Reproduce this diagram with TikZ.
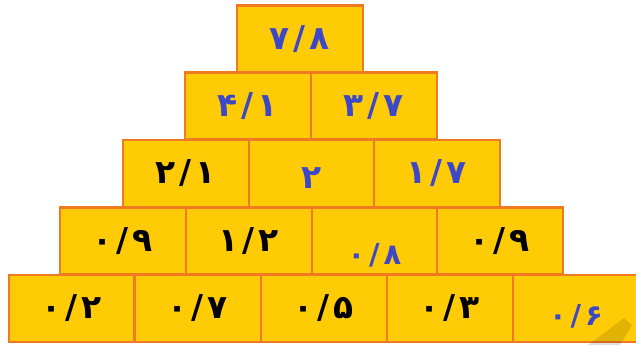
\documentclass[tikz,border=0pt]{standalone}
\usepackage{fontspec}
\newfontfamily\digitfont[Script=Arabic]{DejaVu Sans}
\definecolor{brickfill}{HTML}{FFCB05}
\definecolor{brickline}{HTML}{F07A22}
\definecolor{numblue}{HTML}{3C48C8}
\newcommand\decnum[2]{#1\kern4bp/\kern4bp#2}
\tikzset{
  brick/.style={draw=brickline,fill=brickfill,line width=2.4pt,
    minimum width=125.5bp,minimum height=67bp,inner sep=0pt},
  num/.style={font=\digitfont\bfseries\fontsize{33}{38}\selectfont,text=black},
  bluenum/.style={num,text=numblue},
  smallnum/.style={bluenum,font=\digitfont\bfseries\fontsize{29}{34}\selectfont}
}
\begin{document}
\begin{tikzpicture}[x=1bp,y=-1bp]
  \useasboundingbox (0,0) rectangle (636,345);
  \clip (0,0) rectangle (636,345);
  % row 1
  \node[brick,bluenum] (r1a) at (300,39) {\decnum{۷}{۸}};
  % row 2
  \node[brick,bluenum] (r2a) at (248,106) {\decnum{۴}{۱}};
  \node[brick,bluenum] (r2b) at (374,106) {\decnum{۳}{۷}};
  % row 3
  \node[brick,num] (r3a) at (186,173.5) {\decnum{۲}{۱}};
  \node[brick] (r3b) at (311.5,173.5) {};
  \node[brick,bluenum] (r3c) at (437,173.5) {\decnum{۱}{۷}};
  \node[bluenum] (t3b) at ([yshift=-5bp]r3b) {۲};
  % row 4
  \node[brick,num] (r4a) at (123,241) {\decnum{۰}{۹}};
  \node[brick,num] (r4b) at (249,241) {\decnum{۱}{۲}};
  \node[brick] (r4c) at (374.5,241) {};
  \node[brick,num] (r4d) at (500,241) {\decnum{۰}{۹}};
  \node[smallnum] (t4c) at ([yshift=-14bp]r4c) {\decnum{۰}{۸}};
  % row 5
  \node[brick,num] (r5a) at (71.5,308.5) {\decnum{۰}{۲}};
  \node[brick,num] (r5b) at (198,308.5) {\decnum{۰}{۷}};
  \node[brick,num] (r5c) at (324,308.5) {\decnum{۰}{۵}};
  \node[brick,num] (r5d) at (450,308.5) {\decnum{۰}{۳}};
  \node[brick] (r5e) at (576,308.5) {};
  \node[smallnum] (t5e) at ([yshift=-8bp]r5e) {\decnum{۰}{۶}};
  % shadow in the corner
  \fill[black,opacity=0.12] (588,345) -- (624,318) -- (632,325) -- (620,345) -- cycle;
\end{tikzpicture}
\end{document}
